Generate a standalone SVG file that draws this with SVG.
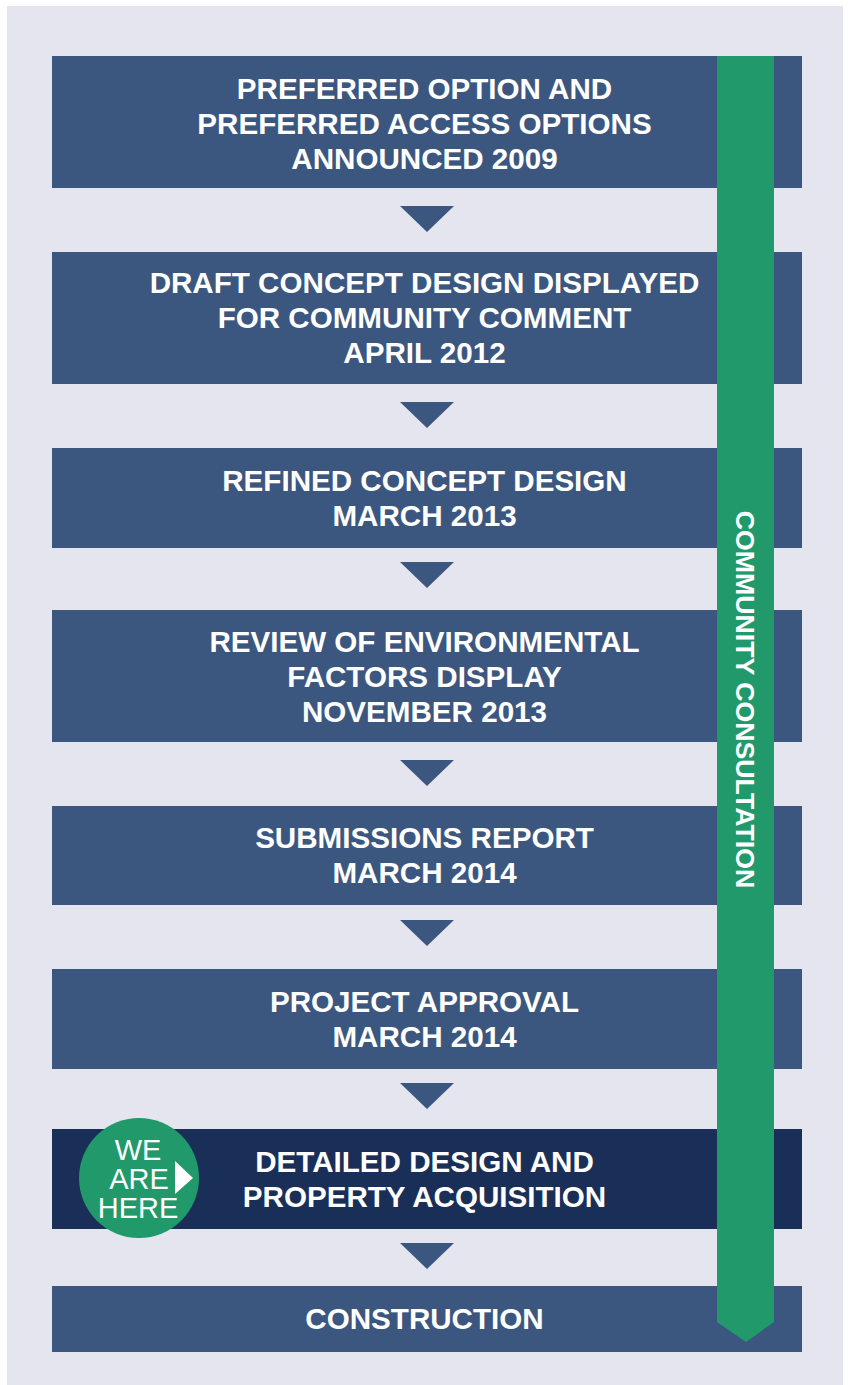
<svg xmlns="http://www.w3.org/2000/svg" width="849" height="1385" viewBox="0 0 849 1385">
<style>
.box{fill:#3c577f}
.cur{fill:#1a2f58}
.arr{fill:#3c577f}
.t{font-family:"Liberation Sans",Arial,sans-serif;font-weight:bold;font-size:29.6px;fill:#ffffff;text-anchor:middle}
.v{font-family:"Liberation Sans",Arial,sans-serif;font-weight:bold;font-size:26.7px;fill:#ffffff;text-anchor:middle}
.w{font-family:"Liberation Sans",Arial,sans-serif;font-size:29px;fill:#ffffff;text-anchor:middle}
</style>
<rect x="0" y="0" width="849" height="1385" fill="#ffffff"/>
<rect x="7" y="6" width="836" height="1379" fill="#e4e5ee"/>
<g id="connectors">
<polygon class="arr" points="400,206 454,206 427,232"/>
<polygon class="arr" points="400,402 454,402 427,428"/>
<polygon class="arr" points="400,562 454,562 427,588"/>
<polygon class="arr" points="400,760 454,760 427,786"/>
<polygon class="arr" points="400,920 454,920 427,946"/>
<polygon class="arr" points="400,1083 454,1083 427,1109"/>
<polygon class="arr" points="400,1243 454,1243 427,1269"/>
</g>
<g id="n1"><rect class="box" x="52" y="56" width="750" height="132"/>
<text class="t" x="424.5" y="99">PREFERRED OPTION AND</text>
<text class="t" x="424.5" y="134">PREFERRED ACCESS OPTIONS</text>
<text class="t" x="424.5" y="169">ANNOUNCED 2009</text></g>
<g id="n2"><rect class="box" x="52" y="252" width="750" height="132"/>
<text class="t" x="424.5" y="293">DRAFT CONCEPT DESIGN DISPLAYED</text>
<text class="t" x="424.5" y="328">FOR COMMUNITY COMMENT</text>
<text class="t" x="424.5" y="363">APRIL 2012</text></g>
<g id="n3"><rect class="box" x="52" y="448" width="750" height="100"/>
<text class="t" x="424.5" y="491">REFINED CONCEPT DESIGN</text>
<text class="t" x="424.5" y="526">MARCH 2013</text></g>
<g id="n4"><rect class="box" x="52" y="610" width="750" height="132"/>
<text class="t" x="424.5" y="652">REVIEW OF ENVIRONMENTAL</text>
<text class="t" x="424.5" y="687">FACTORS DISPLAY</text>
<text class="t" x="424.5" y="722">NOVEMBER 2013</text></g>
<g id="n5"><rect class="box" x="52" y="806" width="750" height="99"/>
<text class="t" x="424.5" y="848">SUBMISSIONS REPORT</text>
<text class="t" x="424.5" y="883">MARCH 2014</text></g>
<g id="n6"><rect class="box" x="52" y="969" width="750" height="100"/>
<text class="t" x="424.5" y="1012">PROJECT APPROVAL</text>
<text class="t" x="424.5" y="1047">MARCH 2014</text></g>
<g id="n7"><rect class="cur" x="52" y="1129" width="750" height="100"/>
<text class="t" x="424.5" y="1172">DETAILED DESIGN AND</text>
<text class="t" x="424.5" y="1207">PROPERTY ACQUISITION</text></g>
<g id="n8"><rect class="box" x="52" y="1286" width="750" height="66"/>
<text class="t" x="424.5" y="1329">CONSTRUCTION</text></g>
<g id="consultation">
<polygon fill="#21996a" points="717,56 774,56 774,1322 746,1342 717,1322"/>
<text class="v" transform="translate(736,699.5) rotate(90)" x="0" y="0">COMMUNITY CONSULTATION</text>
</g>
<g id="we-are-here">
<circle cx="139" cy="1178" r="60" fill="#21996a"/>
<text class="w" x="138" y="1160">WE</text>
<text class="w" x="139" y="1189">ARE</text>
<text class="w" x="138" y="1218">HERE</text>
<polygon fill="#ffffff" points="175,1161 193,1178 175,1194"/>
</g>
</svg>
